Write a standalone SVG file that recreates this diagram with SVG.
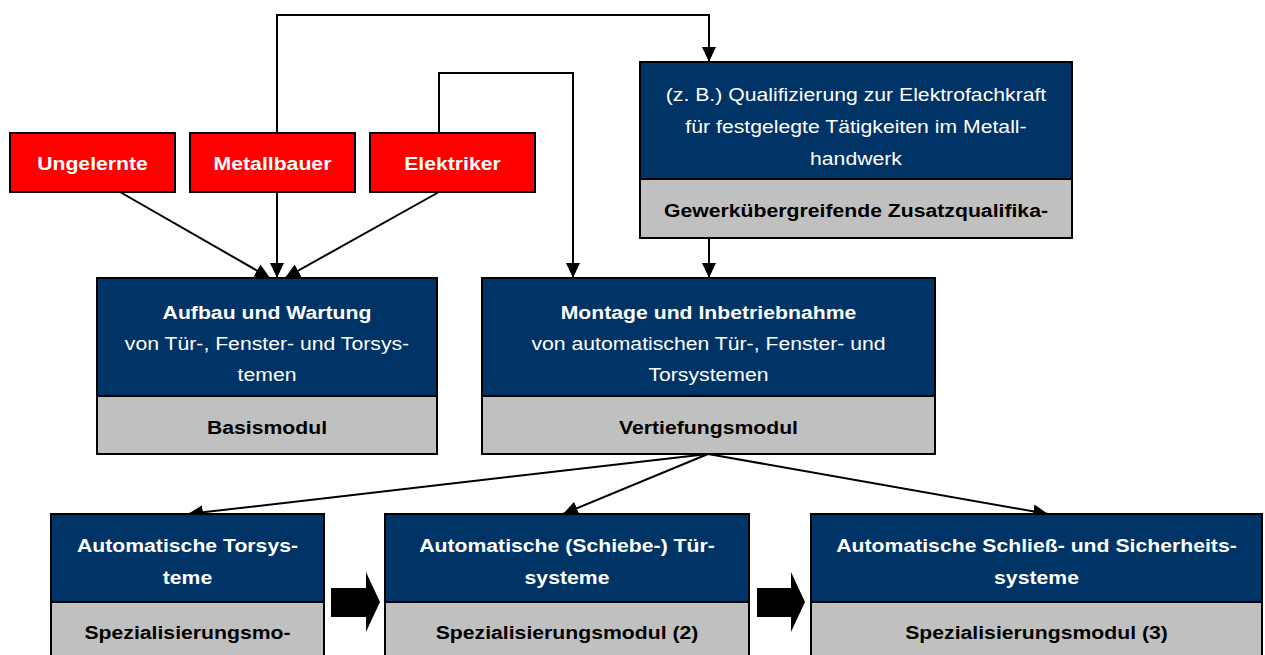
<svg xmlns="http://www.w3.org/2000/svg" width="1265" height="655" viewBox="0 0 1265 655">
<style>
text{font-family:"Liberation Sans",Arial,sans-serif;font-size:18.7px;text-anchor:middle}
.b{font-weight:bold}
.w{fill:#ffffff}
.k{fill:#000000}
.red{fill:#ff0000;stroke:#000;stroke-width:2}
.blue{fill:#003366;stroke:#000;stroke-width:2}
.gray{fill:#c0c0c0;stroke:#000;stroke-width:2}
.c{fill:none;stroke:#000;stroke-width:2}
.blk{fill:#000}
</style>
<defs>
<marker id="ah" markerUnits="userSpaceOnUse" markerWidth="16" markerHeight="16" viewBox="0 0 16 16" refX="15" refY="8" orient="auto">
<path d="M0,1 L15,8 L0,15 Z" fill="#000"/>
</marker>
</defs>
<g id="connectors">
<line class="c" x1="120" y1="192" x2="270" y2="278" marker-end="url(#ah)"/>
<line class="c" x1="277" y1="192" x2="277" y2="278" marker-end="url(#ah)"/>
<line class="c" x1="439" y1="192" x2="285" y2="278" marker-end="url(#ah)"/>
<polyline class="c" points="277,133 277,15 709,15 709,62" marker-end="url(#ah)"/>
<polyline class="c" points="439,133 439,73 573,73 573,278" marker-end="url(#ah)"/>
<line class="c" x1="709" y1="238" x2="709" y2="278" marker-end="url(#ah)"/>
<line class="c" x1="708" y1="454" x2="188" y2="514" marker-end="url(#ah)"/>
<line class="c" x1="708" y1="454" x2="563" y2="514" marker-end="url(#ah)"/>
<line class="c" x1="708" y1="454" x2="1048" y2="514" marker-end="url(#ah)"/>
<polygon class="blk" points="331,588 366,588 366,572 380,602 366,632 366,617 331,617"/>
<polygon class="blk" points="757,588 791,588 791,572 805,602 791,632 791,617 757,617"/>
</g>
<g id="ungelernte">
<rect class="red" x="10" y="133" width="165" height="59"/>
<text class="b w" transform="translate(92.5,170) scale(1.134,1)">Ungelernte</text>
</g>
<g id="metallbauer">
<rect class="red" x="190" y="133" width="165" height="59"/>
<text class="b w" transform="translate(272.5,170) scale(1.134,1)">Metallbauer</text>
</g>
<g id="elektriker">
<rect class="red" x="370" y="133" width="165" height="59"/>
<text class="b w" transform="translate(452.5,170) scale(1.134,1)">Elektriker</text>
</g>
<g id="qualifizierung">
<rect class="blue" x="640" y="62" width="432" height="117"/>
<rect class="gray" x="640" y="179" width="432" height="59"/>
<text class="w" transform="translate(856,101) scale(1.134,1)">(z. B.) Qualifizierung zur Elektrofachkraft</text>
<text class="w" transform="translate(856,133) scale(1.134,1)">für festgelegte Tätigkeiten im Metall-</text>
<text class="w" transform="translate(856,165) scale(1.134,1)">handwerk</text>
<text class="b k" transform="translate(856,217) scale(1.134,1)">Gewerkübergreifende Zusatzqualifika-</text>
</g>
<g id="basismodul">
<rect class="blue" x="97" y="278" width="340" height="118"/>
<rect class="gray" x="97" y="396" width="340" height="58"/>
<text class="b w" transform="translate(267,319) scale(1.134,1)">Aufbau und Wartung</text>
<text class="w" transform="translate(267,350) scale(1.134,1)">von Tür-, Fenster- und Torsys-</text>
<text class="w" transform="translate(267,381) scale(1.134,1)">temen</text>
<text class="b k" transform="translate(267,434) scale(1.134,1)">Basismodul</text>
</g>
<g id="vertiefungsmodul">
<rect class="blue" x="482" y="278" width="453" height="118"/>
<rect class="gray" x="482" y="396" width="453" height="58"/>
<text class="b w" transform="translate(708.5,319) scale(1.134,1)">Montage und Inbetriebnahme</text>
<text class="w" transform="translate(708.5,350) scale(1.134,1)">von automatischen Tür-, Fenster- und</text>
<text class="w" transform="translate(708.5,381) scale(1.134,1)">Torsystemen</text>
<text class="b k" transform="translate(708.5,434) scale(1.134,1)">Vertiefungsmodul</text>
</g>
<g id="spez1">
<rect class="blue" x="51" y="514" width="273" height="88"/>
<rect class="gray" x="51" y="602" width="273" height="60"/>
<text class="b w" transform="translate(187.5,552) scale(1.134,1)">Automatische Torsys-</text>
<text class="b w" transform="translate(187.5,584) scale(1.134,1)">teme</text>
<text class="b k" transform="translate(187.5,639) scale(1.134,1)">Spezialisierungsmo-</text>
</g>
<g id="spez2">
<rect class="blue" x="385" y="514" width="364" height="88"/>
<rect class="gray" x="385" y="602" width="364" height="60"/>
<text class="b w" transform="translate(567,552) scale(1.134,1)">Automatische (Schiebe-) Tür-</text>
<text class="b w" transform="translate(567,584) scale(1.134,1)">systeme</text>
<text class="b k" transform="translate(567,639) scale(1.134,1)">Spezialisierungsmodul (2)</text>
</g>
<g id="spez3">
<rect class="blue" x="811" y="514" width="451" height="88"/>
<rect class="gray" x="811" y="602" width="451" height="60"/>
<text class="b w" transform="translate(1036.5,552) scale(1.134,1)">Automatische Schließ- und Sicherheits-</text>
<text class="b w" transform="translate(1036.5,584) scale(1.134,1)">systeme</text>
<text class="b k" transform="translate(1036.5,639) scale(1.134,1)">Spezialisierungsmodul (3)</text>
</g>
</svg>
